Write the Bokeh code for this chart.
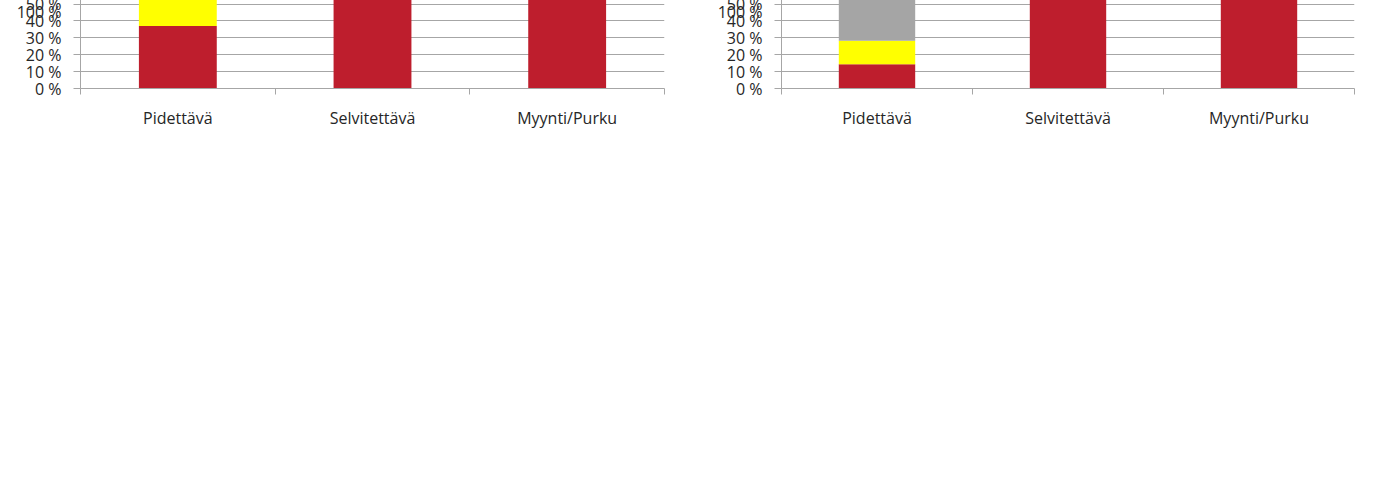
from bokeh.plotting import figure
from bokeh.models import (Range1d, FixedTicker, Legend, LegendItem, PrintfTickFormatter,
                          ColumnDataSource)
from bokeh.layouts import row
from bokeh.embed import file_html
from bokeh.resources import INLINE

categories = ["Pidettävä", "Selvitettävä", "Myynti/Purku"]
series_names = ["Kla < 60 %", "Kla 60 - 75 %", "Kla > 75 %"]

lkm_lt60 = [37.0, 66.7, 93.8]
lkm_60_75 = [23.0, 33.3, 6.2]
lkm_gt75 = [40.0, 0.0, 0.0]

m2_lt60 = [14.4, 90.0, 99.2]
m2_60_75 = [13.9, 10.0, 0.8]
m2_gt75 = [71.7, 0.0, 0.0]

y_ticks = [0, 10, 20, 30, 40, 50, 60, 70, 80, 90, 100]

RED = "#BE1E2D"
YELLOW = "#FFFF00"
GRID = "#A6A6A6"
TEXT = "#262626"


def make_chart(title, lt60, mid, gt75, gray, width, height, mb, title_font, with_legend):
    n = len(categories)
    centers = [i + 0.5 for i in range(n)]
    src = ColumnDataSource(dict(x=centers, a=lt60, b=mid, c=gt75))
    p = figure(x_range=Range1d(0, n), y_range=Range1d(0, 100), width=width, height=height,
               output_backend="svg", toolbar_location=None,
               min_border_left=mb[0], min_border_right=mb[1], min_border_top=mb[2],
               min_border_bottom=mb[3], title=title)
    p.outline_line_color = None
    p.title.align = "center"
    p.title.text_font = title_font
    p.title.text_font_size = "30px"
    p.title.text_font_style = "normal"
    p.title.text_color = "#000000"

    rs = p.vbar_stack(["a", "b", "c"], x="x", width=0.4, source=src,
                      color=[RED, YELLOW, gray], line_color=None)

    p.xgrid.grid_line_color = None
    p.ygrid.grid_line_color = GRID

    ya = p.yaxis[0]
    ya.ticker = FixedTicker(ticks=y_ticks)
    ya.formatter = PrintfTickFormatter(format="%d %%")
    ya.axis_line_color = GRID
    ya.major_tick_line_color = GRID
    ya.major_tick_out = 7
    ya.major_tick_in = 0
    ya.minor_tick_line_color = None
    ya.major_label_text_font = "Open Sans"
    ya.major_label_text_font_size = "16px"
    ya.major_label_text_color = TEXT
    ya.major_label_standoff = 12

    xa = p.xaxis[0]
    xa.ticker = FixedTicker(ticks=centers, minor_ticks=list(range(n + 1)))
    xa.major_label_overrides = {c: lab for c, lab in zip(centers, categories)}
    xa.major_tick_line_color = None
    xa.minor_tick_line_color = GRID
    xa.minor_tick_out = 6
    xa.minor_tick_in = 0
    xa.axis_line_color = GRID
    xa.major_label_text_font = "Open Sans"
    xa.major_label_text_font_size = "16px"
    xa.major_label_text_color = TEXT
    xa.major_label_standoff = 12

    if with_legend:
        legend = Legend(items=[LegendItem(label=s, renderers=[r]) for s, r in zip(series_names, rs)],
                        orientation="horizontal",
                        label_text_font="Open Sans", label_text_font_size="16px",
                        label_text_color=TEXT, glyph_width=12, glyph_height=12,
                        label_standoff=3, spacing=28,
                        border_line_color=None, background_fill_alpha=0)
        p.add_layout(legend, "below")
    return p


p1 = make_chart("lkm %-osuus, toimenpide ja kuntoluokka", lkm_lt60, lkm_60_75, lkm_gt75,
                "#B2B2B2", 694, 482, (80, 30, 88, 80), "Liberation Sans Narrow", True)
p2 = make_chart("m² %-osuus, toimenpide ja kuntoluokka", m2_lt60, m2_60_75, m2_gt75,
                "#A5A5A5", 677, 482, (79, 25, 86, 81), "DejaVu Sans Condensed", False)

layout = row(p1, p2, spacing=8)

with open("out.html", "w") as f:
    f.write(file_html(layout, INLINE))
